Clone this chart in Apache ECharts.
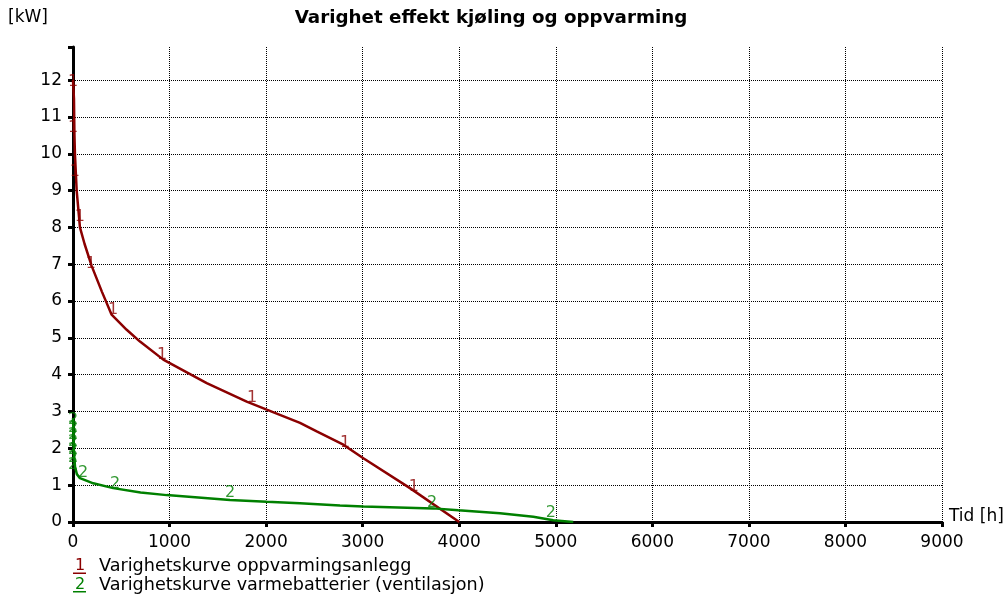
<!DOCTYPE html>
<html><head><meta charset="utf-8">
<script src="https://cdn.jsdelivr.net/npm/echarts@6/dist/echarts.min.js"></script>
<style>html,body{margin:0;padding:0;background:#fff}#c{width:1006px;height:594px}</style>
</head><body><div id="c"></div>
<script>
// Curve 1: Varighetskurve oppvarmingsanlegg
var heatX = [0, 10, 15, 20, 38, 72, 120, 194, 300, 400, 556, 694, 935, 1385, 1799, 2006, 2351, 2524, 2800, 3007, 3490, 4000];
var heatY = [12, 11.5, 10.5, 10, 9, 8, 7.55, 6.95, 6.25, 5.63, 5.22, 4.9, 4.41, 3.77, 3.27, 3.05, 2.69, 2.46, 2.1, 1.73, 0.92, 0];
// Curve 2: Varighetskurve varmebatterier (ventilasjon)
var ventX = [0, 3, 5, 8, 12, 21, 40, 72, 210, 417, 700, 970, 1626, 2006, 2351, 2765, 3007, 3731, 3990, 4422, 4767, 4974, 5181];
var ventY = [2.82, 2.6, 2.3, 2.0, 1.8, 1.5, 1.3, 1.19, 1.05, 0.92, 0.8, 0.73, 0.6, 0.55, 0.51, 0.45, 0.42, 0.37, 0.32, 0.24, 0.14, 0.05, 0];
// Curve marker label positions
var heatLblX = [0, 0, 20, 72, 186, 414, 922, 1854, 2817, 3531];
var heatLblY = [11.95, 10.7, 9.5, 8.3, 7.0, 5.77, 4.54, 3.37, 2.15, 0.95];
var ventLblX = [0, 0, 0, 0, 0, 0, 0, 104, 435, 1626, 3718, 4950];
var ventLblY = [2.78, 2.56, 2.37, 2.18, 1.96, 1.74, 1.55, 1.33, 1.03, 0.79, 0.52, 0.25];
var seriesNames = ['Varighetskurve oppvarmingsanlegg', 'Varighetskurve varmebatterier (ventilasjon)'];
var seriesMarks = ['1', '2'];
var title = 'Varighet effekt kjøling og oppvarming';
var yUnit = '[kW]';
var xUnit = 'Tid [h]';

var RED = '#8b0000', GREEN = '#008000';
var FONT = 'DejaVu Sans';
function zip(a, b) { return a.map(function (v, i) { return [v, b[i]]; }); }

var chart = echarts.init(document.getElementById('c'), null, {renderer: 'canvas'});
var axisCommon = function (inside) {
  return {
    type: 'value', min: 0,
    axisLine: {show: true, lineStyle: {color: '#000', width: 3}},
    axisTick: {show: true, inside: inside, length: 5, lineStyle: {color: '#000', width: 3}},
  };
};
var xA1 = Object.assign(axisCommon(false), {
  max: 9000, interval: 1000,
  axisLabel: {show: true, margin: 12, color: '#000', fontFamily: FONT, fontSize: 17,
    formatter: function (v) { return String(v); }},
  splitLine: {show: true, showMinLine: false, lineStyle: {color: '#000', type: [1, 1], width: 1}}
});
var xA2 = Object.assign(axisCommon(true), {max: 9000, interval: 1000, axisLabel: {show: false}, splitLine: {show: false}, axisLine: {show: false}});
var yA1 = Object.assign(axisCommon(false), {
  max: 12.9, interval: 1,
  axisLabel: {show: true, margin: 11, color: '#000', fontFamily: FONT, fontSize: 17,
    formatter: function (v) { return Math.abs(v - Math.round(v)) < 1e-9 ? String(Math.round(v)) : ''; }},
  splitLine: {show: true, showMinLine: false, showMaxLine: false, lineStyle: {color: '#000', type: [1, 1], width: 1}}
});
var yA2 = Object.assign(axisCommon(true), {max: 12.9, interval: 1, axisLabel: {show: false}, splitLine: {show: false}, axisLine: {show: false}});

function lblSeries(xs, ys, txt, color) {
  return {
    type: 'scatter', xAxisIndex: 0, yAxisIndex: 0, symbolSize: 1, itemStyle: {color: 'rgba(0,0,0,0)'}, silent: true, z: 5,
    data: zip(xs, ys),
    labelLayout: {hideOverlap: false},
    label: {show: true, position: 'inside', formatter: txt, color: color, fontFamily: FONT, fontSize: 16}
  };
}

chart.setOption({
  animation: false,
  backgroundColor: '#fff',
  grid: {left: 73, right: 64, top: 47, bottom: 72, containLabel: false},
  xAxis: [xA1, xA2],
  yAxis: [yA1, yA2],
  series: [
    {name: seriesNames[0], type: 'line', data: zip(heatX, heatY), showSymbol: false, symbol: 'none',
      lineStyle: {color: RED, width: 2.5}, itemStyle: {color: RED}, z: 4},
    {name: seriesNames[1], type: 'line', data: zip(ventX, ventY), showSymbol: false, symbol: 'none',
      lineStyle: {color: GREEN, width: 2.5}, itemStyle: {color: GREEN}, z: 4},
    lblSeries(heatLblX, heatLblY, seriesMarks[0], RED),
    lblSeries(ventLblX, ventLblY, seriesMarks[1], GREEN)
  ],
  graphic: [
    {type: 'text', x: 491, y: 18, style: {text: title, align: 'center', verticalAlign: 'middle', fontFamily: FONT, fontSize: 18.3, fontWeight: 'bold', fill: '#000'}},
    {type: 'text', x: 8, y: 18, style: {text: yUnit, verticalAlign: 'middle', fontFamily: FONT, fontSize: 17, fill: '#000'}},
    {type: 'text', x: 949, y: 517, style: {text: xUnit, verticalAlign: 'middle', fontFamily: FONT, fontSize: 17, fill: '#000'}},
    {type: 'text', x: 75, y: 566, style: {text: seriesMarks[0], verticalAlign: 'middle', fontFamily: FONT, fontSize: 16, fill: RED}},
    {type: 'rect', shape: {x: 73, y: 572.5, width: 13, height: 1.5}, style: {fill: RED}},
    {type: 'text', x: 99, y: 566, style: {text: seriesNames[0], verticalAlign: 'middle', fontFamily: FONT, fontSize: 17.6, fill: '#000'}},
    {type: 'text', x: 75, y: 585, style: {text: seriesMarks[1], verticalAlign: 'middle', fontFamily: FONT, fontSize: 16, fill: GREEN}},
    {type: 'rect', shape: {x: 73, y: 591, width: 13, height: 1.5}, style: {fill: GREEN}},
    {type: 'text', x: 99, y: 585, style: {text: seriesNames[1], verticalAlign: 'middle', fontFamily: FONT, fontSize: 17.6, fill: '#000'}}
  ]
});
</script></body></html>
